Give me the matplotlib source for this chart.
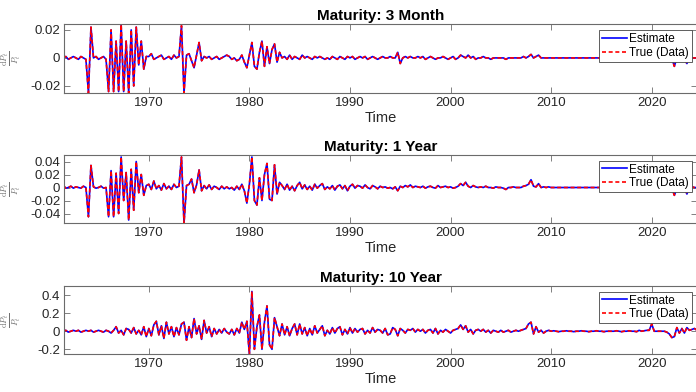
import numpy as np
import matplotlib
matplotlib.use('Agg')
import matplotlib.pyplot as plt

plt.rcParams['font.family'] = ['Liberation Sans', 'DejaVu Sans']
plt.rcParams['axes.unicode_minus'] = False
plt.rcParams['mathtext.fontset'] = 'cm'

# quarterly readings starting 1961.5 (first row = 1961 Q3,Q4)
# 3 month maturity, units 1e-3
true_3m = [
    0, 1,
    -1, 0, 1, 0,        # 1962
    -1, 1, 0, -1,
    -25, 22, 0, 1,      # 1964
    -1, 0, 1, -1,
    -24, 20, -24, 12,   # 1966
    -24, 24, -24, 12,
    -25, 20, -20, 22,   # 1968
    -5, 12, -8, 1,
    1, 3, -1, 0,        # 1970
    1, 2, -1, 0,
    1, -1, 2, 0,        # 1972
    1, 23, -25, 2,
    3, -2, -7, 2,       # 1974
    11, -2, 1, 0,
    1, -1, 0, 1,        # 1976
    -1, 0, 1, 2,
    1, -1, 0, -2,       # 1978
    -1, 2, -3, -7,
    2, 11, -6, -8,      # 1980
    4, 12, -6, 8,
    -4, 6, 10, -3,      # 1982
    4, 0, 1, -1,
    2, -1, 1, 0,        # 1984
    -1, 2, 0, 1,
    0, -1, 1, 0,        # 1986
    1, 0, -1, 0,
    -1, 1, 0, -1,       # 1988
    1, 0, -1, 1,
    0, 1, -1, 0,        # 1990
    1, 0, 1, -1,
    0, 1, 0, -1,        # 1992
    0, 1, 0, 0,
    1, 0, 0, 4,         # 1994
    -4, 0, 1, 0,
    1, 0, 0, 1,         # 1996
    0, 1, -1, 0,
    1, 0, -1, 0,        # 1998
    0, 1, 0, -1,
    0, 1, -1, 0,        # 2000
    2, 1, 0, 2,
    0, 1, -1, 0,        # 2002
    0, 1, 0, 0,
    -1, 0, 0, 0,        # 2004
    0, 0, -1, 0,
    0, 0, 0, 0,         # 2006
    0, 1, 0, 1,
    2.5, 0, 1, 2,       # 2008
    0, 0, 0, 0,
    0, 0, 0, 0,         # 2010
    0, 0, 0, 0,
    0, 0, 0, 0,         # 2012
    0, 0, 0, 0,
    0, 0, 0, 0,         # 2014
    0, 0, 0, 0,
    0, 0, 0, 0,         # 2016
    0, 0, 0, 0,
    0, 0, 0, 0,         # 2018
    0, 0, 0, 0,
    0, 0, 0, 0,         # 2020
    0, 0, 0, 0,
    0, -6, 0, 0,        # 2022
    0, -1, -4, 0,
    0, 0, 0,            # 2024
]

# 1 year maturity, units 1e-3
true_1y = [
    3, -1,
    0, 2, -1, 1,        # 1962
    0, -1, 2, 0,
    -45, 34, 1, -1,     # 1964
    0, 2, -1, 0,
    -45, 26, -45, 22,   # 1966
    -40, 47, -20, 23,
    -50, 28, -35, 40,   # 1968
    -8, 20, -12, 3,
    5, -3, 10, -2,      # 1970
    3, -4, 6, -2,
    2, -3, 5, 0,        # 1972
    2, 47, -55, 3,
    5, 13, -8, 4,       # 1974
    27, -5, 3, -2,
    4, -3, 2, 0,        # 1976
    -3, 2, -2, 1,
    -2, 0, -4, 2,       # 1978
    -3, 5, -5, -24,
    5, 47, -20, -27,    # 1980
    15, -20, 20, 37,
    -18, -20, 35, -10,  # 1982
    8, 3, -3, 5,
    -4, 2, -5, 3,       # 1984
    8, -2, 4, -3,
    2, -4, 5, -1,       # 1986
    3, 6, -3, 1,
    -2, 3, -4, 2,       # 1988
    4, -2, 3, -5,
    2, 5, -1, 3,        # 1990
    2, -1, 4, 0,
    -2, 3, 1, -2,       # 1992
    2, 0, 1, -1,
    0, -2, 1, -5,       # 1994
    2, 0, 3, 1,
    4, 0, 2, 1,         # 1996
    0, 2, -1, 1,
    2, 0, -1, 3,        # 1998
    0, 1, 2, 0,
    1, -1, 0, 2,        # 2000
    6, 3, 8, 2,
    0, 3, 1, 0,         # 2002
    1, 0, 2, 0,
    0, -1, 1, 0,        # 2004
    0, -1, -3, 0,
    0, 1, 0, 0,         # 2006
    0, 2, 3, 5,
    12, 2, 1, 6,        # 2008
    0, 1, 0, 1,
    0, 0, 0, 0,         # 2010
    0, 0, 0, 0,
    0, 0, 0, 0,         # 2012
    0, 0, 0, 0,
    0, 0, 0, 0,         # 2014
    0, 0, 0, 0,
    0, 0, 0, 0,         # 2016
    0, 0, 0, 0,
    0, 0, 0, 0,         # 2018
    0, 0, 0, 0,
    0, 0, 0, 0,         # 2020
    0, 0, 0, 0,
    0, -12, -2, 0,      # 2022
    -1, 0, -10, 0,
    1, 0, 0,            # 2024
]

# 10 year maturity, units 1e-2
true_10y = [
    0, 1,
    -1, 0, 1, 0,        # 1962
    1, -1, 0, 1,
    0, 1, -1, 0,        # 1964
    1, 0, -1, 1,
    0, -2, 1, 5,        # 1966
    -2, 1, -4, 3,
    2, -2, 4, -3,       # 1968
    1, -4, 5, -6,
    3, -5, 7, 11,       # 1970
    -4, 6, -8, 10,
    -3, 5, -6, 4,       # 1972
    -4, 8, 10, -10,
    5, -7, 14, -3,      # 1974
    6, -9, 12, -2,
    5, -6, 3, -3,       # 1976
    2, -2, 3, -1,
    -3, 2, -4, 3,       # 1978
    -2, 10, 2, 11,
    -26, 44, -20, 5,    # 1980
    18, -20, 10, 28,
    -15, -20, 15, 5,    # 1982
    -5, 8, -4, 5,
    -5, 3, 8, -4,       # 1984
    8, -3, 4, -5,
    3, -4, 6, -2,       # 1986
    2, 6, -5, 1,
    -3, 4, -2, 3,       # 1988
    5, -4, 2, -3,
    4, -2, 3, -1,       # 1990
    2, 3, -3, 1,
    -2, 4, -1, 2,       # 1992
    1, -2, 3, -4,
    -3, 4, 2, -5,       # 1994
    3, 1, -2, 2,
    1, 3, -1, 2,        # 1996
    0, 2, -2, 1,
    2, -2, 3, -3,       # 1998
    1, -1, 2, 0,
    -2, 1, 2, 3,        # 2000
    7, 2, 6, -1,
    2, -3, 1, 2,        # 2002
    0, 2, -1, 1,
    -2, 1, 0, -1,       # 2004
    1, -1, 0, 1,
    -1, 0, 1, 0,        # 2006
    1, 2, 3, 8,
    10, -3, 5, -1,      # 2008
    1, -2, 0, 1,
    0, 0.5, 0, -0.5,    # 2010
    0, 0, 0.5, 0,
    0, -0.5, 0, 0,      # 2012
    0.5, 0, 0, -0.5,
    0, 0, 0.5, 0,       # 2014
    0, -0.5, 0, 0,
    0, 0, 0.5, 0,       # 2016
    -0.5, 0, 0, 0.5,
    0, 0, -0.5, 1,      # 2018
    0, 0.5, 1, 1,
    8, 0, 0, 0,         # 2020
    0, 0, -1, -3,
    -7, -6, 4, -2,      # 2022
    3, -2, 4, 1,
    2, 3, 1,            # 2024
]

# estimate and data lie on top of each other at this resolution
est_3m = true_3m
est_1y = true_1y
est_10y = true_10y

titles = ['Maturity: 3 Month', 'Maturity: 1 Year', 'Maturity: 10 Year']
scales = [1e-3, 1e-3, 1e-2]
ylims = [(-0.025, 0.024), (-0.055, 0.05), (-0.252, 0.5)]
yticks = [[-0.02, 0, 0.02], [-0.04, -0.02, 0, 0.02, 0.04], [-0.2, 0, 0.2, 0.4]]
ytick_labels = [['-0.02', '0', '0.02'],
                ['-0.04', '-0.02', '0', '0.02', '0.04'],
                ['-0.2', '0', '0.2', '0.4']]
xticks = [1970, 1980, 1990, 2000, 2010, 2020]

fig = plt.figure(figsize=(6.96, 3.92), dpi=100)
boxes = [[0.0924, 0.7628, 0.909, 0.1753],
         [0.0924, 0.4304, 0.909, 0.1742],
         [0.0924, 0.0969, 0.909, 0.1735]]
series = [(est_3m, true_3m), (est_1y, true_1y), (est_10y, true_10y)]
edge = '#6b6b6b'

for i, (est, tru) in enumerate(series):
    ax = fig.add_axes(boxes[i])
    t = 1961.5 + 0.25 * np.arange(len(tru))
    ax.plot(t, np.array(est) * scales[i], color='#0000ff', lw=1.2, label='Estimate')
    ax.plot(t, np.array(tru) * scales[i], color='#ff0000', lw=1.2,
            linestyle=(0, (2.4, 1.6)), label='True (Data)')
    ax.set_xlim(1961.6, 2024.5)
    ax.set_ylim(*ylims[i])
    ax.set_xticks(xticks)
    ax.set_yticks(yticks[i])
    ax.set_yticklabels(ytick_labels[i])
    ax.tick_params(direction='in', length=4, width=0.6, color=edge,
                   labelsize=9.5, labelcolor='#262626', top=True, right=True, pad=3)
    for s in ax.spines.values():
        s.set_color(edge)
        s.set_linewidth(0.8)
    ax.set_title(titles[i], fontsize=11, fontweight='bold', pad=3)
    ax.set_xlabel('Time', fontsize=10.5, color='#262626', labelpad=1)
    # y label placed by hand so it sits at the same spot in all three panels
    ax.text(-0.084, 0.5, r'$\frac{\mathrm{d}P_t}{P_t}$', transform=ax.transAxes,
            rotation=90, ha='center', va='center', fontsize=9, color='#707070')
    leg = ax.legend(loc='upper right', bbox_to_anchor=(0.992, 0.917), borderaxespad=0,
                    fontsize=8.5, fancybox=False, framealpha=1, handlelength=2.1,
                    handletextpad=0.2, borderpad=0.25, labelspacing=0.15)
    leg.get_frame().set_edgecolor('#444444')
    leg.get_frame().set_linewidth(0.6)

fig.savefig('out.png', dpi=100)
